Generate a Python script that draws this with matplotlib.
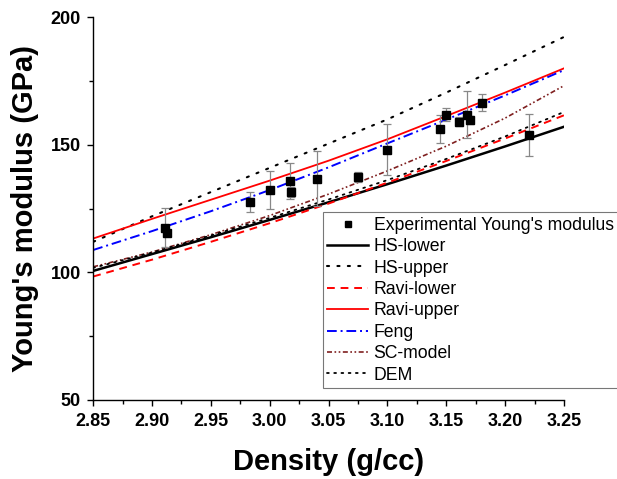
import matplotlib
matplotlib.use("Agg")
import matplotlib.pyplot as plt
import numpy as np

plt.rcParams['font.family'] = ['Liberation Sans', 'DejaVu Sans']

# Model curves (density grid)
density = [2.85, 2.90, 2.95, 3.00, 3.05, 3.10, 3.15, 3.20, 3.25]
hs_lower = [100.6, 107.2, 113.8, 120.6, 127.5, 134.6, 141.9, 149.4, 157.1]
hs_upper = [112.0, 122.0, 131.5, 141.0, 150.5, 160.0, 170.5, 181.3, 192.3]
ravi_lower = [98.4, 105.0, 112.0, 119.3, 127.0, 135.2, 143.7, 152.5, 161.6]
ravi_upper = [113.3, 121.0, 128.5, 136.0, 143.8, 152.2, 161.3, 170.5, 180.0]
feng = [108.8, 116.2, 124.0, 132.3, 141.2, 150.6, 159.9, 169.4, 179.3]
sc_model = [102.2, 108.0, 114.8, 122.3, 130.7, 139.8, 149.5, 160.5, 173.2]
dem = [101.8, 107.8, 114.5, 121.4, 128.6, 136.2, 144.5, 153.3, 162.9]

# Experimental data
exp_density = [2.911, 2.913, 2.983, 3.000, 3.017, 3.018, 3.040, 3.075, 3.100,
               3.145, 3.150, 3.161, 3.168, 3.170, 3.180, 3.220]
exp_modulus = [117.6, 115.5, 127.7, 132.3, 135.8, 131.6, 136.8, 137.5, 148.0,
               156.1, 161.9, 159.0, 161.9, 159.7, 166.6, 153.8]
exp_error = [7.8, 1.0, 4.0, 7.3, 7.2, 2.0, 10.8, 2.0, 10.0,
             5.5, 2.4, 1.8, 9.2, 1.5, 3.4, 8.2]

fig = plt.figure(figsize=(6.17, 4.79), dpi=100)
ax = fig.add_axes([93.2/617, 1-400/479, (564-93.2)/617, (400-17.3)/479])

l1, = ax.plot(density, hs_lower, color='black', lw=1.8, ls='-', label='HS-lower')
l2, = ax.plot(density, hs_upper, color='black', lw=1.5, ls=(0, (1, 4)), dash_capstyle='round', label='HS-upper')
l3, = ax.plot(density, ravi_lower, color='red', lw=1.4, ls=(0, (4, 3)), label='Ravi-lower')
l4, = ax.plot(density, ravi_upper, color='red', lw=1.3, ls='-', label='Ravi-upper')
l5, = ax.plot(density, feng, color='#0000FF', lw=1.4, ls=(0, (5, 2, 1, 2)), label='Feng')
l6, = ax.plot(density, sc_model, color='#7F1F1F', lw=1.2, ls=(0, (3, 1.5, 1, 1.5, 1, 1.5)), label='SC-model')
l7, = ax.plot(density, dem, color='black', lw=1.3, ls=(0, (1, 3)), dash_capstyle='round', label='DEM')

ax.errorbar(exp_density, exp_modulus, yerr=exp_error, fmt='none', ecolor='#888888',
            elinewidth=0.9, capsize=3, capthick=0.9, zorder=4)
pts, = ax.plot(exp_density, exp_modulus, ls='none', marker='s', ms=6, color='black',
               label="Experimental Young's modulus", zorder=5)

ax.set_xlim(2.85, 3.25)
ax.set_ylim(50, 200)
ax.set_xticks(np.arange(2.85, 3.2501, 0.05))
ax.set_xticks(np.arange(2.875, 3.25, 0.05), minor=True)
ax.set_yticks([50, 100, 150, 200])
ax.set_yticks([75, 125, 175], minor=True)
ax.set_xticklabels([f"{v:.2f}" for v in np.arange(2.85, 3.2501, 0.05)])

for s in ['top', 'right']:
    ax.spines[s].set_visible(False)
for s in ['left', 'bottom']:
    ax.spines[s].set_linewidth(1.0)

ax.tick_params(axis='both', which='major', direction='out', length=4.5, width=1.0,
               labelsize=13, pad=4.5)
ax.tick_params(axis='both', which='minor', direction='out', length=2.8, width=1.0)
for lab in ax.get_xticklabels() + ax.get_yticklabels():
    lab.set_fontweight('bold')

ax.set_xlabel('Density (g/cc)', fontsize=21, fontweight='bold', va='center')
ax.set_ylabel("Young's modulus (GPa)", fontsize=21, fontweight='bold', va='center')
ax.xaxis.set_label_coords(0.5, (400-462)/382.7)
ax.yaxis.set_label_coords((25-93.2)/470.8, 0.5)

leg = fig.legend(handles=[pts, l1, l2, l3, l4, l5, l6, l7], loc='upper left',
                 bbox_to_anchor=(322.7/617, 1-212.3/479), borderaxespad=0,
                 fontsize=12.7, frameon=True, fancybox=False, framealpha=1,
                 edgecolor='#777777', labelspacing=0.25, handlelength=2.33,
                 handletextpad=0.3, borderpad=0.25, markerscale=0.8)
leg.get_frame().set_linewidth(0.8)

fig.savefig('out.png', dpi=100)
